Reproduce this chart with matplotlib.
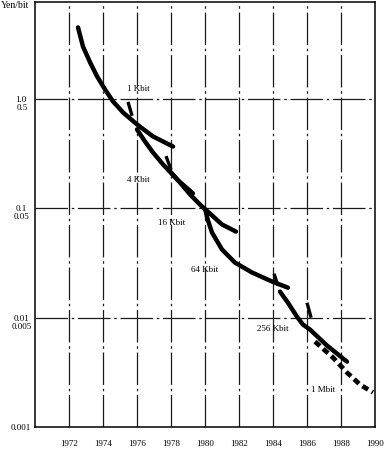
import matplotlib.pyplot as plt

# price per bit (yen) for each DRAM generation
kb1_year = [1972.53, 1972.82, 1973.24, 1973.65, 1974.12, 1974.59, 1975.18, 1976.0, 1976.94, 1978.12]
kb1_price = [4.51, 3.02, 2.16, 1.61, 1.22, 0.949, 0.752, 0.585, 0.454, 0.367]

kb4_year = [1976.0, 1976.47, 1976.94, 1977.53, 1978.41, 1979.29]
kb4_price = [0.526, 0.408, 0.324, 0.252, 0.18, 0.137]

kb16_year = [1978.0, 1978.53, 1979.12, 1979.71, 1980.29, 1981.0, 1981.82]
kb16_price = [0.213, 0.172, 0.134, 0.108, 0.0896, 0.0711, 0.0613]

kb64_year = [1980.06, 1980.12, 1980.41, 1981.0, 1981.76, 1982.76, 1983.94, 1984.88]
kb64_price = [0.0935, 0.0823, 0.0601, 0.042, 0.0319, 0.0259, 0.0214, 0.0188]

kb256_year = [1984.41, 1984.88, 1985.41, 1985.76, 1986.18, 1987.18, 1988.35]
kb256_price = [0.0173, 0.0137, 0.0102, 0.00865, 0.00777, 0.00555, 0.00396]

mb1_year = [1986.47, 1987.53, 1988.35, 1989.12, 1989.88]
mb1_price = [0.00604, 0.00431, 0.00315, 0.00244, 0.00207]

# short strokes marking where each new generation starts
start_marks = {
    '4K': ([1975.47, 1975.71], [0.94, 0.70]),
    '16K': ([1977.71, 1978.0], [0.30, 0.225]),
    '64K': ([1979.94, 1980.18], [0.101, 0.0785]),
    '256K': ([1984.06, 1984.29], [0.0252, 0.0196]),
    '1M': ([1986.0, 1986.24], [0.0137, 0.010]),
}

year_ticks = [1972, 1974, 1976, 1978, 1980, 1982, 1984, 1986, 1988, 1990]
grid_years = [1972, 1974, 1976, 1978, 1980, 1982, 1984, 1986, 1988]
price_ticks = [1.0, 0.1, 0.01, 0.001]
price_labels = ['1.0', '0.1', '0.01', '0.001']
half_ticks = [1.0, 0.1, 0.01]
half_labels = ['0.5', '0.05', '0.005']

labels = ['1 Kbit', '4 Kbit', '16 Kbit', '64 Kbit', '256 Kbit', '1 Mbit']
label_year = [1976.06, 1976.06, 1978.05, 1980.0, 1984.0, 1986.94]
label_price = [1.22, 0.18, 0.074, 0.027, 0.0078, 0.0022]

plt.rcParams['font.family'] = ['Liberation Serif', 'DejaVu Serif']

fig = plt.figure(figsize=(3.89, 4.54), dpi=100)
ax = fig.add_axes([35 / 389, 1 - 427 / 454, 340 / 389, 425 / 454])
ax.set_yscale('log')
ax.set_xlim(1970, 1990)
ax.set_ylim(0.001, 7.7)

grid_style = dict(color='#1a1a1a', lw=0.9, ls=(0, (26, 3, 2, 3)), zorder=1)
for yr in grid_years:
    ax.axvline(yr, **grid_style)
for p in half_ticks:
    ax.axhline(p, **grid_style)

curve = dict(color='black', lw=3.2, solid_capstyle='round',
             solid_joinstyle='round', zorder=3)
ax.plot(kb1_year, kb1_price, **curve)
ax.plot(kb4_year, kb4_price, **curve)
ax.plot(kb16_year, kb16_price, **curve)
ax.plot(kb64_year, kb64_price, **curve)
ax.plot(kb256_year, kb256_price, **curve)
ax.plot(mb1_year, mb1_price, color='black', lw=3.4, ls=(0, (1.4, 0.9)), zorder=3)

for xs, ys in start_marks.values():
    ax.plot(xs, ys, color='black', lw=2.4, solid_capstyle='butt', zorder=3)

for txt, x, y in zip(labels, label_year, label_price):
    ax.text(x, y, txt, fontsize=6.5, ha='center', va='center', zorder=4)

ax.set_xticks(year_ticks)
ax.set_xticklabels([str(y) for y in year_ticks])
ax.set_yticks(price_ticks)
ax.set_yticklabels(price_labels)
ax.minorticks_off()
ax.tick_params(axis='both', length=0, labelsize=6.5)
ax.tick_params(axis='x', pad=9)
ax.tick_params(axis='y', pad=10)
for lab in ax.get_yticklabels():
    lab.set_ha('center')
for p, txt in zip(half_ticks, half_labels):
    ax.annotate(txt, xy=(-13 / 340, p), xycoords=('axes fraction', 'data'),
                xytext=(0, -9), textcoords='offset pixels',
                fontsize=6.5, ha='center', va='center')

for s in ax.spines.values():
    s.set_linewidth(1.1)

fig.text(1 / 389, 1 - 6 / 454, 'Yen/bit', fontsize=7, ha='left', va='center')

fig.savefig('out.png', dpi=100)
